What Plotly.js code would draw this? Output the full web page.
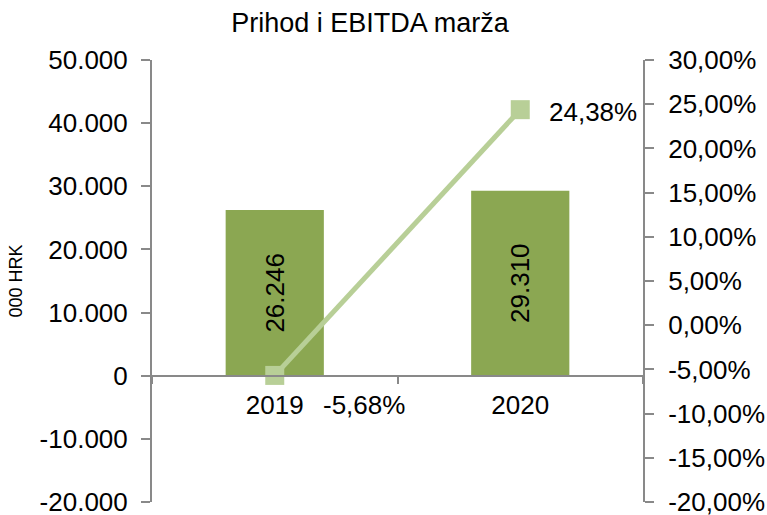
<!DOCTYPE html>
<html>
<head>
<meta charset="utf-8">
<script src="https://cdn.plot.ly/plotly-3.0.1.min.js"></script>
<style>html,body{margin:0;padding:0;background:#fff;}#chart{width:767px;height:515px;}</style>
</head>
<body>
<div id="chart"></div>
<script>
// Data
const categories = ["2019", "2020"];
const revenue = [26246, 29310];            // 000 HRK
const ebitdaMargin = [-0.0568, 0.2438];    // EBITDA marža
const marginLabels = ["-5,68%", "24,38%"];

const leftTickVals = [-20000, -10000, 0, 10000, 20000, 30000, 40000, 50000];
const leftTickText = ["-20.000", "-10.000", "0", "10.000", "20.000", "30.000", "40.000", "50.000"];
const rightTickVals = [-0.20, -0.15, -0.10, -0.05, 0, 0.05, 0.10, 0.15, 0.20, 0.25, 0.30];
const rightTickText = ["-20,00%", "-15,00%", "-10,00%", "-5,00%", "0,00%", "5,00%", "10,00%", "15,00%", "20,00%", "25,00%", "30,00%"];

const FONT = "Liberation Sans, Arial, sans-serif";
const AXIS = "#898989";
const BAR = "#8BA752";
const LINE = "#B8CF97";

const traces = [
  {
    type: "bar",
    x: categories,
    y: revenue,
    width: 0.4,
    marker: {color: BAR},
    texttemplate: "%{y:,.0f}",
    textposition: "inside",
    insidetextanchor: "middle",
    textangle: -90,
    textfont: {family: FONT, size: 26, color: "#000"},
    hoverinfo: "skip",
    showlegend: false
  },
  {
    type: "scatter",
    mode: "lines+markers",
    x: categories,
    y: ebitdaMargin,
    yaxis: "y2",
    line: {color: LINE, width: 5},
    marker: {symbol: "square", size: 19, color: LINE},
    hoverinfo: "skip",
    showlegend: false
  }
];

const labelShifts = [{xs: 46, ys: -30}, {xs: 27, ys: -2}];
const annotations = categories.map((c, i) => ({
  x: i, y: ebitdaMargin[i], xref: "x", yref: "y2",
  text: marginLabels[i], showarrow: false,
  xanchor: "left", yanchor: "middle",
  xshift: labelShifts[i].xs, yshift: labelShifts[i].ys,
  font: {family: FONT, size: 26, color: "#000"}
}));

const layout = {
  width: 767, height: 515,
  margin: {l: 152, r: 124, t: 60, b: 13, pad: 0},
  paper_bgcolor: "#fff", plot_bgcolor: "#fff",
  separators: ",.",
  font: {family: FONT, color: "#000"},
  title: {
    text: "Prihod i EBITDA marža",
    font: {family: FONT, size: 27, color: "#000"},
    xref: "container", x: 0.4824, xanchor: "center",
    yref: "container", y: 0.957, yanchor: "middle"
  },
  xaxis: {
    type: "category",
    range: [-0.5, 1.5],
    anchor: "free",
    position: 2 / 7,
    showline: true, linecolor: AXIS, linewidth: 2,
    ticks: "outside", tickson: "boundaries", ticklen: 7, tickcolor: AXIS, tickwidth: 2,
    tickfont: {family: FONT, size: 26, color: "#000"},
    ticklabelstandoff: 6,
    showgrid: false, zeroline: false, fixedrange: true
  },
  yaxis: {
    range: [-20000, 50000],
    tickvals: leftTickVals, ticktext: leftTickText,
    showline: true, linecolor: AXIS, linewidth: 2,
    ticks: "outside", ticklen: 9, tickcolor: AXIS, tickwidth: 2,
    tickfont: {family: FONT, size: 26, color: "#000"},
    ticklabelstandoff: 8,
    ticklabeloverflow: "allow",
    showgrid: false, zeroline: false, fixedrange: true,
    title: {text: "000 HRK", font: {family: FONT, size: 18, color: "#000"}, standoff: 12}
  },
  yaxis2: {
    overlaying: "y", side: "right",
    range: [-0.20, 0.30],
    tickvals: rightTickVals, ticktext: rightTickText,
    showline: true, linecolor: AXIS, linewidth: 2,
    ticks: "outside", ticklen: 9, tickcolor: AXIS, tickwidth: 2,
    tickfont: {family: FONT, size: 26, color: "#000"},
    ticklabelstandoff: 9,
    ticklabeloverflow: "allow",
    showgrid: false, zeroline: false, fixedrange: true
  },
  annotations: annotations,
  showlegend: false
};

Plotly.newPlot("chart", traces, layout, {displayModeBar: false, staticPlot: true});
</script>
</body>
</html>
